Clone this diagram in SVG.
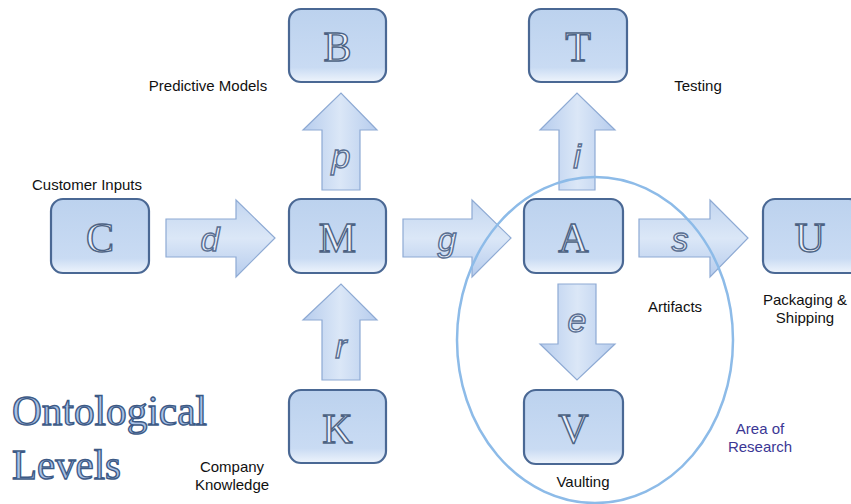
<svg xmlns="http://www.w3.org/2000/svg" width="851" height="504" viewBox="0 0 851 504">
<defs>
<linearGradient id="boxg" x1="0" y1="0" x2="0" y2="1">
<stop offset="0" stop-color="#bcd2ee"/>
<stop offset="0.8" stop-color="#c9dbf3"/>
<stop offset="1" stop-color="#eef4fc"/>
</linearGradient>
<linearGradient id="arrh" x1="0" y1="0" x2="0" y2="1">
<stop offset="0" stop-color="#c3d6f0"/>
<stop offset="0.5" stop-color="#dbe7f7"/>
<stop offset="1" stop-color="#b6cced"/>
</linearGradient>
<linearGradient id="arrv" x1="0" y1="0" x2="1" y2="0">
<stop offset="0" stop-color="#b6cced"/>
<stop offset="0.5" stop-color="#dbe7f7"/>
<stop offset="1" stop-color="#b6cced"/>
</linearGradient>
<style>
.box{fill:url(#boxg);stroke:#4a6894;stroke-width:2.2}
.bl{font-family:"Liberation Serif","DejaVu Serif",serif;font-size:42px;fill:#e9f0fb;stroke:#4c6283;stroke-width:1.4;text-anchor:middle}
.ah{fill:url(#arrh);stroke:#8eaad4;stroke-width:1.2}
.av{fill:url(#arrv);stroke:#8eaad4;stroke-width:1.2}
.al{font-family:"Liberation Sans","DejaVu Sans",sans-serif;font-style:italic;font-size:34px;fill:#e9f0fb;stroke:#5a6f92;stroke-width:1.4;text-anchor:middle}
.lab{font-family:"Liberation Sans",Arial,sans-serif;font-size:15px;fill:#111}
.c{text-anchor:middle}
.title{font-family:"Liberation Serif","DejaVu Serif",serif;font-size:42px;fill:#a9c2e6;stroke:#3d5a86;stroke-width:1.4}
</style>
</defs>
<rect width="851" height="504" fill="#ffffff"/>

<g id="connectors">
<g id="arrow-d"><path class="ah" d="M166,219 H236 V200 L275,238 L236,277 V257 H166 Z"/><text class="al" x="210" y="251">d</text></g>
<g id="arrow-g"><path class="ah" d="M403,219 H472 V200 L511,238 L472,277 V257 H403 Z"/><text class="al" x="447" y="251">g</text></g>
<g id="arrow-s"><path class="ah" d="M639,219 H710 V200 L748,238 L710,277 V257 H639 Z"/><text class="al" x="680" y="251">s</text></g>
<g id="arrow-p"><path class="av" d="M322,190 V130 H303 L341,93 L377,130 H360 V190 Z"/><text class="al" x="341" y="168">p</text></g>
<g id="arrow-r"><path class="av" d="M322,380 V320 H303 L341,284 L377,320 H360 V380 Z"/><text class="al" x="341" y="358">r</text></g>
<g id="arrow-i"><path class="av" d="M559,190 V130 H540 L577,93 L615,130 H595 V190 Z"/><text class="al" x="577" y="168">i</text></g>
<g id="arrow-e"><path class="av" d="M558,284 V344 H540 L577,380 L615,344 H596 V284 Z"/><text class="al" x="577" y="332">e</text></g>
</g>

<ellipse id="area" cx="595" cy="340" rx="138" ry="163" fill="none" stroke="#8dbbe8" stroke-width="2.5"/>

<g id="node-B"><rect class="box" x="289" y="9" width="97" height="73" rx="12"/><text class="bl" x="337.5" y="61">B</text></g>
<g id="node-T"><rect class="box" x="529" y="9" width="98" height="73" rx="12"/><text class="bl" x="578" y="61">T</text></g>
<g id="node-C"><rect class="box" x="51" y="199" width="98" height="74" rx="12"/><text class="bl" x="100" y="252">C</text></g>
<g id="node-M"><rect class="box" x="289" y="199" width="97" height="74" rx="12"/><text class="bl" x="337.5" y="252">M</text></g>
<g id="node-A"><rect class="box" x="524" y="199" width="99" height="74" rx="12"/><text class="bl" x="573.5" y="252">A</text></g>
<g id="node-U"><rect class="box" x="763" y="199" width="98" height="74" rx="12"/><text class="bl" x="810" y="252">U</text></g>
<g id="node-K"><rect class="box" x="289" y="390" width="97" height="73" rx="12"/><text class="bl" x="337.5" y="443">K</text></g>
<g id="node-V"><rect class="box" x="524" y="390" width="99" height="74" rx="12"/><text class="bl" x="573.5" y="443">V</text></g>

<g id="labels">
<text class="lab c" x="208" y="91">Predictive Models</text>
<text class="lab c" x="87" y="190">Customer Inputs</text>
<text class="lab c" x="698" y="91">Testing</text>
<text class="lab c" x="675" y="312">Artifacts</text>
<text class="lab c" x="805" y="305">Packaging &amp;</text>
<text class="lab c" x="805" y="323">Shipping</text>
<text class="lab c" x="583" y="487">Vaulting</text>
<text class="lab c" x="232" y="472">Company</text>
<text class="lab c" x="232" y="490">Knowledge</text>
<text class="lab c" x="760" y="434" style="fill:#3b3795">Area of</text>
<text class="lab c" x="760" y="452" style="fill:#3b3795">Research</text>
<text class="title" x="12" y="425" textLength="195" lengthAdjust="spacingAndGlyphs">Ontological</text>
<text class="title" x="12" y="479" textLength="109" lengthAdjust="spacingAndGlyphs">Levels</text>
</g>
</svg>
